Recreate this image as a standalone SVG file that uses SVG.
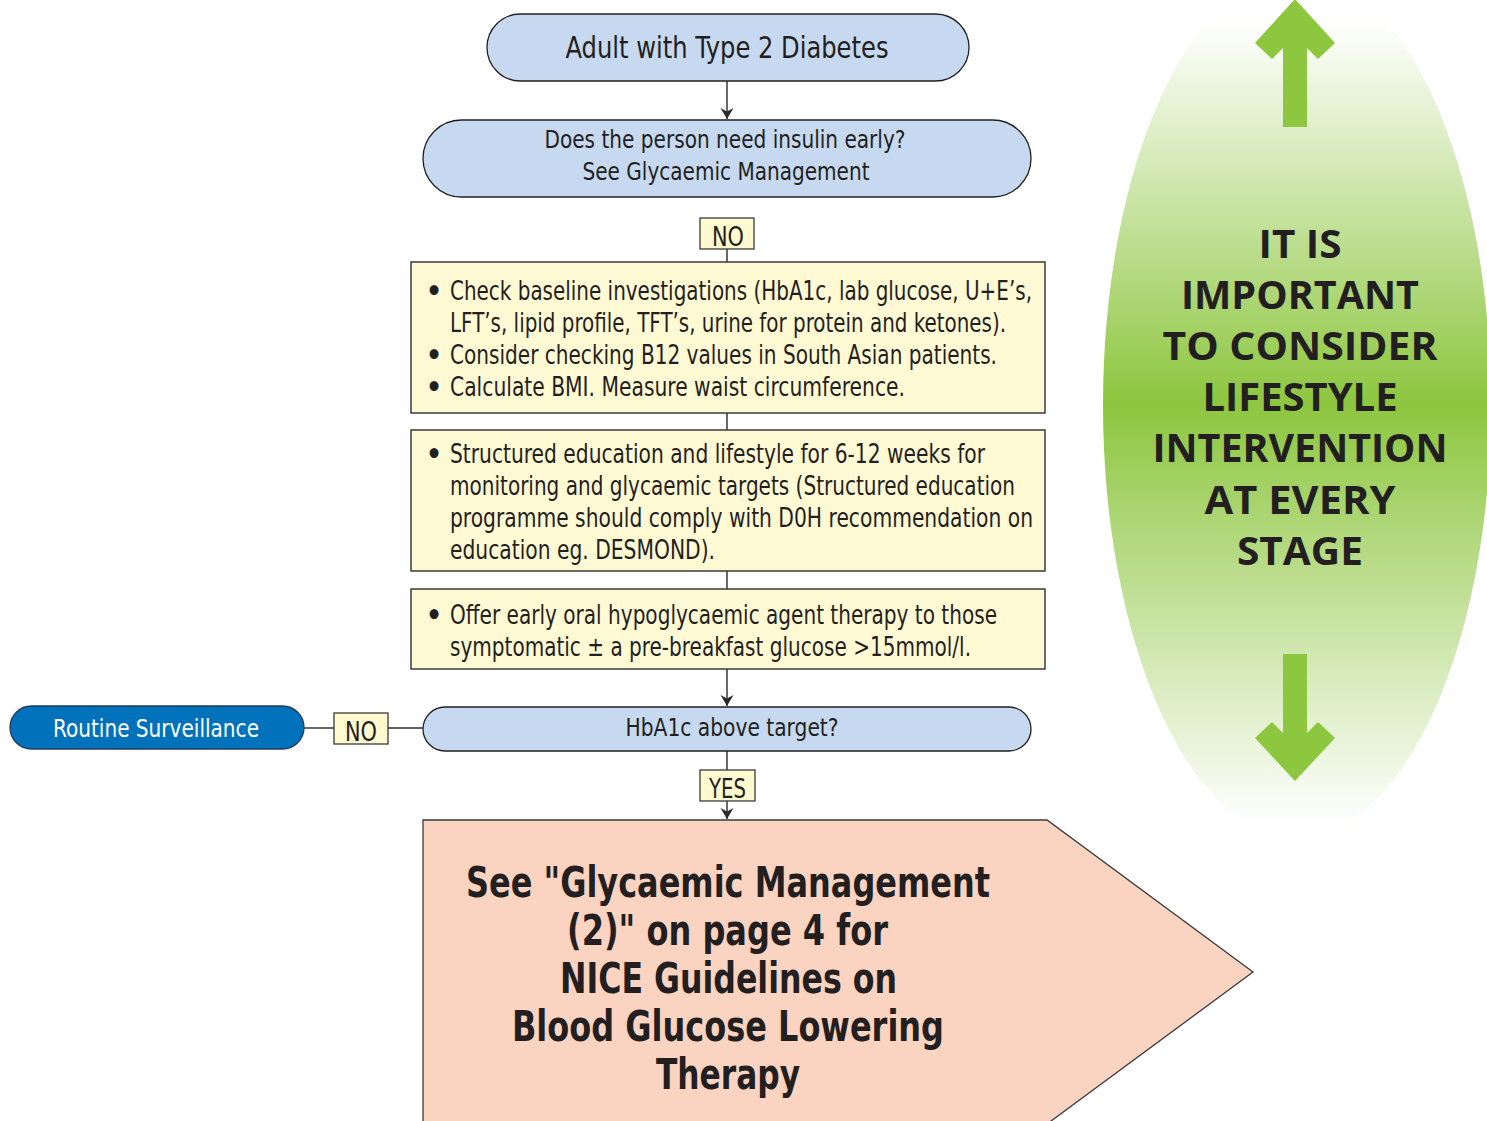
<svg xmlns="http://www.w3.org/2000/svg" width="1487" height="1121" viewBox="0 0 1487 1121">
<style>
.t{font-family:"Liberation Sans Narrow","DejaVu Sans Condensed","Liberation Sans",sans-serif;fill:#231f20;}
.c{text-anchor:middle;}
.b{font-weight:bold;font-size:28px;}
.blue{fill:#c6d9f0;stroke:#231f20;stroke-width:1.3;}
.yel{fill:#fff9d4;stroke:#3a3a3a;stroke-width:1.5;}
.lab{fill:#fff9d0;stroke:#3a3a3a;stroke-width:1.3;}
.ln{stroke:#2a2a2a;stroke-width:1.4;fill:none;}
.big{font-family:"Liberation Sans Narrow","DejaVu Sans Condensed","Liberation Sans",sans-serif;font-weight:bold;fill:#231f20;text-anchor:middle;font-size:42px;}
.gt{font-family:"Open Sans","DejaVu Sans",sans-serif;font-weight:bold;fill:#231f20;text-anchor:middle;font-size:40px;}
</style>
<defs>
<marker id="ah" viewBox="0 0 11 17" refX="11" refY="8.5" markerWidth="11" markerHeight="17" markerUnits="userSpaceOnUse" orient="auto">
<path d="M0,2 L11,8.5 L0,15 L3.5,8.5 Z" fill="#2a2a2a"/>
</marker>
<linearGradient id="gg" gradientUnits="userSpaceOnUse" x1="0" y1="22" x2="0" y2="824">
<stop offset="0" stop-color="#ffffff"/>
<stop offset="0.476" stop-color="#8dc63f"/>
<stop offset="1" stop-color="#ffffff"/>
</linearGradient>
<clipPath id="ec"><rect x="1000" y="0" width="487" height="823"/></clipPath>
</defs>

<g id="lifestyle">
<ellipse cx="1297" cy="405" rx="194" ry="432" fill="url(#gg)" clip-path="url(#ec)"/>
<path d="M1295,-1 L1335,43 L1318,59 L1307,48 L1307,127 L1283,127 L1283,48 L1272,59 L1255,43 Z" fill="#8dc63f"/>
<path d="M1283,654 L1307,654 L1307,733 L1318,722 L1335,738 L1295,781 L1255,738 L1272,722 L1283,733 Z" fill="#8dc63f"/>
<text class="gt" x="1300" y="258" textLength="83" lengthAdjust="spacingAndGlyphs">IT IS</text>
<text class="gt" x="1300" y="309" textLength="238" lengthAdjust="spacingAndGlyphs">IMPORTANT</text>
<text class="gt" x="1300" y="360" textLength="275" lengthAdjust="spacingAndGlyphs">TO CONSIDER</text>
<text class="gt" x="1300" y="411" textLength="195" lengthAdjust="spacingAndGlyphs">LIFESTYLE</text>
<text class="gt" x="1300" y="462" textLength="295" lengthAdjust="spacingAndGlyphs">INTERVENTION</text>
<text class="gt" x="1300" y="514" textLength="191" lengthAdjust="spacingAndGlyphs">AT EVERY</text>
<text class="gt" x="1300" y="565" textLength="126" lengthAdjust="spacingAndGlyphs">STAGE</text>
</g>

<g id="connectors">
<line class="ln" x1="727" y1="81" x2="727" y2="119" marker-end="url(#ah)"/>
<line class="ln" x1="727" y1="249" x2="727" y2="262"/>
<line class="ln" x1="727" y1="413" x2="727" y2="430"/>
<line class="ln" x1="727" y1="571" x2="727" y2="589"/>
<line class="ln" x1="727" y1="669" x2="727" y2="706" marker-end="url(#ah)"/>
<line class="ln" x1="423" y1="728" x2="388" y2="728"/>
<line class="ln" x1="334" y1="728" x2="304" y2="728"/>
<line class="ln" x1="727" y1="751" x2="727" y2="770"/>
<line class="ln" x1="727" y1="801" x2="727" y2="819" marker-end="url(#ah)"/>
</g>

<g id="start">
<rect class="blue" x="487" y="14" width="482" height="67" rx="33.5"/>
<text class="t c" x="727" y="58" font-size="31" textLength="323" lengthAdjust="spacingAndGlyphs">Adult with Type 2 Diabetes</text>
</g>

<g id="insulin">
<rect class="blue" x="423" y="120" width="608" height="77" rx="38.5"/>
<text class="t c" x="725" y="148" font-size="25" textLength="361" lengthAdjust="spacingAndGlyphs">Does the person need insulin early?</text>
<text class="t c" x="726" y="180" font-size="25" textLength="287" lengthAdjust="spacingAndGlyphs">See Glycaemic Management</text>
</g>

<g id="label-no-1">
<rect class="lab" x="700" y="218" width="54" height="31"/>
<text class="t c" x="728" y="246" font-size="26" textLength="32" lengthAdjust="spacingAndGlyphs">NO</text>
</g>

<g id="baseline">
<rect class="yel" x="411" y="262" width="634" height="151"/>
<g class="t" font-size="26">
<text class="b" x="426" y="301">•</text>
<text x="450" y="300" textLength="582" lengthAdjust="spacingAndGlyphs">Check baseline investigations (HbA1c, lab glucose, U+E’s,</text>
<text x="450" y="332" textLength="556" lengthAdjust="spacingAndGlyphs">LFT’s, lipid profile, TFT’s, urine for protein and ketones).</text>
<text class="b" x="426" y="365">•</text>
<text x="450" y="364" textLength="547" lengthAdjust="spacingAndGlyphs">Consider checking B12 values in South Asian patients.</text>
<text class="b" x="426" y="397">•</text>
<text x="450" y="396" textLength="455" lengthAdjust="spacingAndGlyphs">Calculate BMI. Measure waist circumference.</text>
</g>
</g>

<g id="education">
<rect class="yel" x="411" y="430" width="634" height="141"/>
<g class="t" font-size="26">
<text class="b" x="426" y="464">•</text>
<text x="450" y="463" textLength="535" lengthAdjust="spacingAndGlyphs">Structured education and lifestyle for 6-12 weeks for</text>
<text x="450" y="495" textLength="565" lengthAdjust="spacingAndGlyphs">monitoring and glycaemic targets (Structured education</text>
<text x="450" y="527" textLength="583" lengthAdjust="spacingAndGlyphs">programme should comply with D0H recommendation on</text>
<text x="450" y="559" textLength="265" lengthAdjust="spacingAndGlyphs">education eg. DESMOND).</text>
</g>
</g>

<g id="oral">
<rect class="yel" x="411" y="589" width="634" height="80"/>
<g class="t" font-size="26">
<text class="b" x="426" y="625">•</text>
<text x="450" y="624" textLength="547" lengthAdjust="spacingAndGlyphs">Offer early oral hypoglycaemic agent therapy to those</text>
<text x="450" y="656" textLength="521" lengthAdjust="spacingAndGlyphs">symptomatic ± a pre-breakfast glucose &gt;15mmol/l.</text>
</g>
</g>

<g id="hba1c">
<rect class="blue" x="423" y="707" width="608" height="44" rx="22"/>
<text class="t c" x="732" y="736" font-size="25" textLength="213" lengthAdjust="spacingAndGlyphs">HbA1c above target?</text>
</g>

<g id="label-no-2">
<rect class="lab" x="334" y="713" width="54" height="31"/>
<text class="t c" x="361" y="741" font-size="26" textLength="32" lengthAdjust="spacingAndGlyphs">NO</text>
</g>

<g id="routine">
<rect x="10" y="706" width="294" height="43" rx="21.5" fill="#0072bc" stroke="#1f3b57" stroke-width="1.3"/>
<text class="c" x="156" y="737" font-size="25" fill="#ffffff" font-family="Liberation Sans Narrow, DejaVu Sans Condensed, Liberation Sans, sans-serif" textLength="206" lengthAdjust="spacingAndGlyphs">Routine Surveillance</text>
</g>

<g id="label-yes">
<rect class="lab" x="700" y="770" width="55" height="31"/>
<text class="t c" x="727.5" y="798" font-size="26" textLength="37" lengthAdjust="spacingAndGlyphs">YES</text>
</g>

<g id="nice">
<path d="M423,820 L1047,820 L1253,972 L1047,1124 L423,1124 Z" fill="#fbd3c1" stroke="#3a3a3a" stroke-width="1.3"/>
<text class="big" x="728" y="897" textLength="524" lengthAdjust="spacingAndGlyphs">See "Glycaemic Management</text>
<text class="big" x="727.5" y="945" textLength="321" lengthAdjust="spacingAndGlyphs">(2)" on page 4 for</text>
<text class="big" x="728.5" y="993" textLength="337" lengthAdjust="spacingAndGlyphs">NICE Guidelines on</text>
<text class="big" x="728" y="1041" textLength="432" lengthAdjust="spacingAndGlyphs">Blood Glucose Lowering</text>
<text class="big" x="728" y="1089" textLength="144" lengthAdjust="spacingAndGlyphs">Therapy</text>
</g>
</svg>
